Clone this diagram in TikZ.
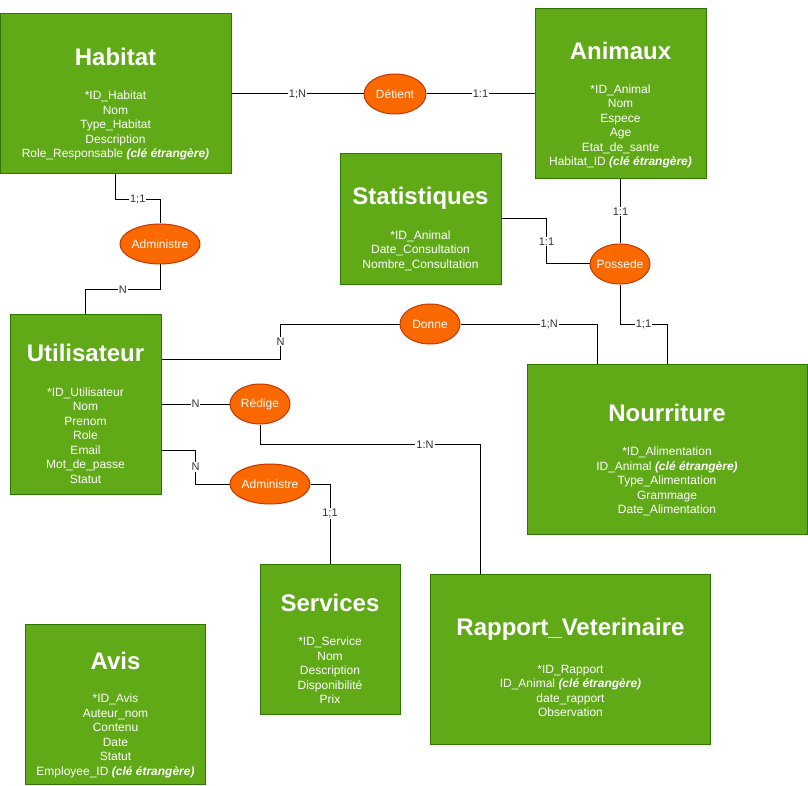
\documentclass[tikz,border=0pt]{standalone}
\usepackage{fontspec}
\setmainfont{Liberation Sans}
\usetikzlibrary{shapes.geometric}
\definecolor{gfill}{HTML}{60A917}
\definecolor{gline}{HTML}{2D7600}
\definecolor{ofill}{HTML}{FA6800}
\definecolor{oline}{HTML}{C73500}
\definecolor{lbltext}{HTML}{333333}
\newcommand{\fk}{\textbf{\textit{(clé étrangère)}}}
\begin{document}
\begin{tikzpicture}[x=1pt,y=-1pt,
  entity/.style={rectangle, fill=gfill, draw=gline, line width=1pt, inner sep=0pt},
  rel/.style={ellipse, fill=ofill, draw=oline, line width=1pt, inner sep=0pt},
  reltext/.style={text=white, font=\fontsize{12}{14}\selectfont, inner sep=0pt},
  etitle/.style={text=white, font=\fontsize{24}{28}\selectfont\bfseries, inner sep=0pt},
  eattr/.style={text=white, font=\fontsize{12}{14.5}\selectfont, align=center, inner sep=0pt},
  conn/.style={draw=black, line width=1pt},
  card/.style={fill=white, text=lbltext, font=\fontsize{11}{13}\selectfont, inner sep=1pt}]
\fill[white] (0,0) rectangle (808,786);
\useasboundingbox (0,0) rectangle (808,786);

% entities
\node[entity, minimum width=231pt, minimum height=160pt] (hab) at (115.5,94) {};
\node[etitle] (habT) at (115.5,57) {Habitat};
\node[eattr] (habA) at (115.5,125.5) {*ID\_Habitat\\Nom\\Type\_Habitat\\Description\\Role\_Responsable \fk};

\node[entity, minimum width=171pt, minimum height=170pt] (ani) at (620.5,94) {};
\node[etitle] (aniT) at (620.5,51) {Animaux};
\node[eattr] (aniA) at (620.5,126.5) {*ID\_Animal\\Nom\\Espece\\Age\\Etat\_de\_sante\\Habitat\_ID \fk};

\node[entity, minimum width=161pt, minimum height=130pt] (stat) at (420.5,219) {};
\node[etitle] (statT) at (420.5,198) {Statistiques};
\node[eattr] (statA) at (420.5,250.5) {*ID\_Animal\\Date\_Consultation\\Nombre\_Consultation};

\node[entity, minimum width=151pt, minimum height=180pt] (util) at (85.5,404) {};
\node[etitle] (utilT) at (85.5,353) {Utilisateur};
\node[eattr] (utilA) at (85.5,435.5) {*ID\_Utilisateur\\Nom\\Prenom\\Role\\Email\\Mot\_de\_passe\\Statut};

\node[entity, minimum width=280pt, minimum height=170pt] (nour) at (667,449) {};
\node[etitle] (nourT) at (667,413) {Nourriture};
\node[eattr] (nourA) at (667,481.5) {*ID\_Alimentation\\ID\_Animal \fk\\Type\_Alimentation\\Grammage\\Date\_Alimentation};

\node[entity, minimum width=140pt, minimum height=150pt] (serv) at (330,639) {};
\node[etitle] (servT) at (330,603) {Services};
\node[eattr] (servA) at (330,670.5) {*ID\_Service\\Nom\\Description\\Disponibilité\\Prix};

\node[entity, minimum width=180pt, minimum height=160pt] (avis) at (115.5,704) {};
\node[etitle] (avisT) at (115.5,661) {Avis};
\node[eattr] (avisA) at (115.5,736) {*ID\_Avis\\Auteur\_nom\\Contenu\\Date\\Statut\\Employee\_ID \fk};

\node[entity, minimum width=280pt, minimum height=170pt] (rap) at (570.5,659) {};
\node[etitle] (rapT) at (570.5,629) {Rapport\_Veterinaire};
\node[eattr] (rapA) at (570.5,691) {*ID\_Rapport\\ID\_Animal \fk\\date\_rapport\\Observation};

% relationships
\node[rel, minimum width=62pt, minimum height=40pt, label={[reltext]center:Détient}] (det) at (395,94) {};
\node[rel, minimum width=80pt, minimum height=40pt, label={[reltext]center:Administre}] (adm1) at (160,244) {};
\node[rel, minimum width=60pt, minimum height=40pt, label={[reltext]center:Possede}] (pos) at (620,264) {};
\node[rel, minimum width=60pt, minimum height=40pt, label={[reltext]center:Donne}] (don) at (430,324) {};
\node[rel, minimum width=60pt, minimum height=40pt, label={[reltext]center:Rédige}] (red) at (260,404) {};
\node[rel, minimum width=80pt, minimum height=40pt, label={[reltext]center:Administre}] (adm2) at (270,484) {};

% connectors
\draw[conn] (hab.east) -- node[card]{1;N} (det.west);
\draw[conn] (det.east) -- node[card]{1:1} (ani.west);
\draw[conn] (hab.south) -- ++(0,25) -| node[card,pos=0.25]{1;1} (adm1.north);
\draw[conn] (adm1.south) -- ++(0,25) -| node[card,pos=0.25]{N} (util.north);
\draw[conn] (ani.south) -- node[card]{1:1} (ani.south |- pos.north);
\draw[conn] (stat.east) -- ++(45,0) |- node[card,pos=0.25]{1:1} (pos.west);
\draw[conn] (pos.south) -- ++(0,40) -| node[card,pos=0.25]{1;1} (nour.north);
\draw[conn] (util.east |- 0,359) -- ++(119,0) |- node[card,pos=0.25]{N} (don.west);
\draw[conn] (don.east) -| node[card,pos=0.325]{1;N} ([xshift=-70pt]nour.north);
\draw[conn] (util.east) -- node[card]{N} (red.west);
\draw[conn] (red.south) -- ++(0,20) -| node[card,pos=0.375]{1:N} ([xshift=-90.5pt]rap.north);
\draw[conn] (util.east |- 0,450) -- ++(34,0) |- node[card,pos=0.25]{N} (adm2.west);
\draw[conn] (adm2.east) -| node[card,pos=0.6875]{1;1} (serv.north);
\end{tikzpicture}
\end{document}
